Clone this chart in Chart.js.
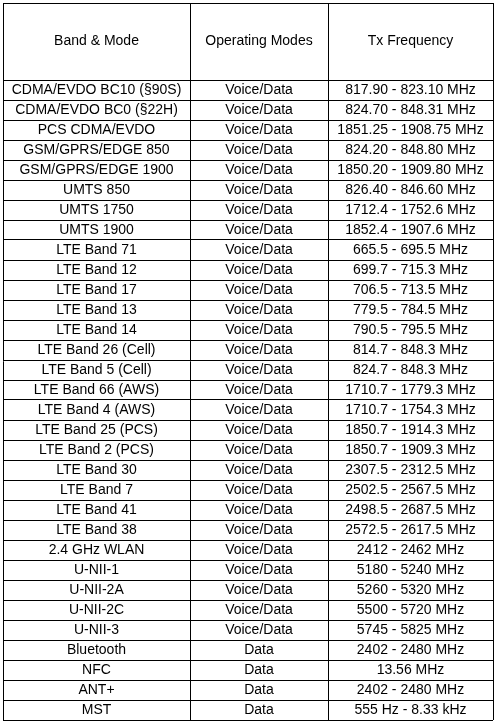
<!DOCTYPE html>
<html>
<head>
<meta charset="utf-8">
<script src="https://cdn.jsdelivr.net/npm/chart.js@4"></script>
<style>
  html, body { margin: 0; padding: 0; background: #fff; }
  #wrap { width: 497px; height: 726px; }
</style>
</head>
<body>
<div id="wrap"><canvas id="tbl"></canvas></div>
<script>
const headers = ['Band & Mode', 'Operating Modes', 'Tx Frequency'];
const bands = ['CDMA/EVDO BC10 (§90S)', 'CDMA/EVDO BC0 (§22H)', 'PCS CDMA/EVDO', 'GSM/GPRS/EDGE 850',
  'GSM/GPRS/EDGE 1900', 'UMTS 850', 'UMTS 1750', 'UMTS 1900', 'LTE Band 71', 'LTE Band 12',
  'LTE Band 17', 'LTE Band 13', 'LTE Band 14', 'LTE Band 26 (Cell)', 'LTE Band 5 (Cell)',
  'LTE Band 66 (AWS)', 'LTE Band 4 (AWS)', 'LTE Band 25 (PCS)', 'LTE Band 2 (PCS)', 'LTE Band 30',
  'LTE Band 7', 'LTE Band 41', 'LTE Band 38', '2.4 GHz WLAN', 'U-NII-1', 'U-NII-2A', 'U-NII-2C',
  'U-NII-3', 'Bluetooth', 'NFC', 'ANT+', 'MST'];
const modes = bands.map((b, i) => i < 28 ? 'Voice/Data' : 'Data');
const freqs = ['817.90 - 823.10 MHz', '824.70 - 848.31 MHz', '1851.25 - 1908.75 MHz', '824.20 - 848.80 MHz',
  '1850.20 - 1909.80 MHz', '826.40 - 846.60 MHz', '1712.4 - 1752.6 MHz', '1852.4 - 1907.6 MHz',
  '665.5 - 695.5 MHz', '699.7 - 715.3 MHz', '706.5 - 713.5 MHz', '779.5 - 784.5 MHz',
  '790.5 - 795.5 MHz', '814.7 - 848.3 MHz', '824.7 - 848.3 MHz', '1710.7 - 1779.3 MHz',
  '1710.7 - 1754.3 MHz', '1850.7 - 1914.3 MHz', '1850.7 - 1909.3 MHz', '2307.5 - 2312.5 MHz',
  '2502.5 - 2567.5 MHz', '2498.5 - 2687.5 MHz', '2572.5 - 2617.5 MHz', '2412 - 2462 MHz',
  '5180 - 5240 MHz', '5260 - 5320 MHz', '5500 - 5720 MHz', '5745 - 5825 MHz', '2402 - 2480 MHz',
  '13.56 MHz', '2402 - 2480 MHz', '555 Hz - 8.33 kHz'];
const colEdges = [0, 187, 325, 490];
const headH = 77, rowH = 20;

const columns = [bands, modes, freqs];
const rowEdges = [0, headH];
bands.forEach((b, i) => rowEdges.push(headH + (i + 1) * rowH));

const cellText = {
  id: 'cellText',
  afterDatasetsDraw(chart) {
    const { ctx, scales: { x, y } } = chart;
    ctx.save();
    ctx.fillStyle = '#000';
    ctx.font = '14px "Liberation Sans", Arial, sans-serif';
    ctx.textAlign = 'center';
    ctx.textBaseline = 'middle';
    for (let c = 0; c < 3; c++) {
      const cx = x.getPixelForValue((colEdges[c] + colEdges[c + 1]) / 2);
      ctx.fillText(headers[c], cx, y.getPixelForValue(headH / 2));
      columns[c].forEach((t, r) => {
        ctx.fillText(t, cx, y.getPixelForValue(headH + r * rowH + rowH / 2 + 0.5));
      });
    }
    ctx.restore();
  }
};

new Chart(document.getElementById('tbl'), {
  type: 'scatter',
  data: { datasets: [{ data: [], pointRadius: 0 }] },
  options: {
    responsive: true,
    maintainAspectRatio: false,
    animation: false,
    layout: { padding: { left: 3, top: 3, right: 4, bottom: 6 } },
    plugins: { legend: { display: false }, tooltip: { enabled: false } },
    scales: {
      x: {
        type: 'linear', min: 0, max: 490,
        afterBuildTicks: a => { a.ticks = colEdges.map(v => ({ value: v })); },
        ticks: { display: false },
        grid: { color: '#000', lineWidth: 1, drawTicks: false },
        border: { display: false }
      },
      y: {
        type: 'linear', min: 0, max: rowEdges[rowEdges.length - 1], reverse: true,
        afterBuildTicks: a => { a.ticks = rowEdges.map(v => ({ value: v })); },
        ticks: { display: false },
        grid: { color: '#000', lineWidth: 1, drawTicks: false },
        border: { display: false }
      }
    }
  },
  plugins: [cellText]
});
</script>
</body>
</html>
